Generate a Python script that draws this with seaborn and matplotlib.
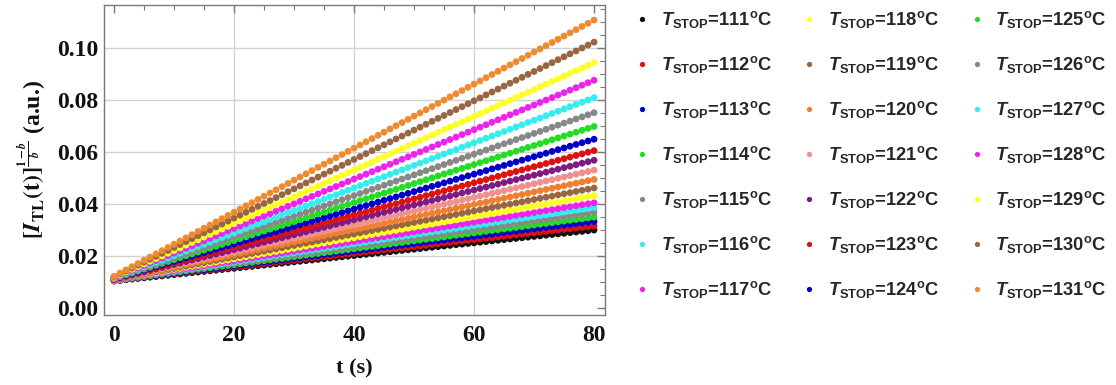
import numpy as np
import pandas as pd
import matplotlib
matplotlib.use("Agg")
import matplotlib.pyplot as plt
import seaborn as sns
from matplotlib.lines import Line2D
from matplotlib.ticker import MultipleLocator

# Stop temperatures (°C) of the 21 curves
t_stop = [111, 112, 113, 114, 115, 116, 117,
          118, 119, 120, 121, 122, 123, 124,
          125, 126, 127, 128, 129, 130, 131]

# Point colours, one per curve
colors = ["#111111", "#dd1111", "#0000cc", "#22dd22", "#888888", "#33eeee", "#ee22ee",
          "#ffff22", "#996644", "#f08030", "#f09090", "#801a80", "#dd1111", "#0000cc",
          "#22dd22", "#888888", "#33eeee", "#ee22ee", "#ffff22", "#996644", "#f08a30"]

# Sampling times (s)
t_seconds = np.arange(0, 81, 1)

# [I_TL(t)]^((1-b)/b) at t = 0 s and t = 80 s for each curve (a.u.)
y_at_0 = [0.0104, 0.0105, 0.0105, 0.0106, 0.0106, 0.0107, 0.0107,
          0.0108, 0.0108, 0.0109, 0.0110, 0.0110, 0.0111, 0.0112,
          0.0113, 0.0114, 0.0115, 0.0116, 0.0118, 0.0120, 0.0122]
y_at_80 = [0.0300, 0.0316, 0.0333, 0.0350, 0.0368, 0.0387, 0.0405,
           0.0433, 0.0462, 0.0495, 0.0531, 0.0569, 0.0606, 0.0650,
           0.0699, 0.0752, 0.0810, 0.0877, 0.0945, 0.1024, 0.1109]

# General-order kinetics: the transformed TL signal grows linearly with time
rows = []
for T, y0, y80 in zip(t_stop, y_at_0, y_at_80):
    slope = (y80 - y0) / 80.0
    for t in t_seconds:
        rows.append({"t": t, "y": y0 + slope * t, "T": str(T)})
df = pd.DataFrame(rows)

sns.set_theme(style="white")
plt.rcParams.update({
    "font.family": ["Liberation Serif", "DejaVu Serif"],
    "font.weight": "bold",
    "mathtext.fontset": "custom",
    "mathtext.rm": "Liberation Sans:bold",
    "mathtext.it": "Liberation Sans:italic:bold",
    "mathtext.bf": "Liberation Sans:bold",
})

fig = plt.figure(figsize=(11.16, 3.85), dpi=100)
ax = fig.add_axes([104 / 1116, 1 - 315 / 385, (605 - 104) / 1116, (315 - 5) / 385])

sns.scatterplot(data=df, x="t", y="y", hue="T", palette=colors,
                hue_order=[str(T) for T in t_stop],
                s=24, linewidth=0, legend=False, ax=ax, zorder=3)

ax.set_xlim(-1.67, 81.83)
ax.set_ylim(-0.0027, 0.1167)
ax.xaxis.set_major_locator(MultipleLocator(20))
ax.xaxis.set_minor_locator(MultipleLocator(5))
ax.yaxis.set_major_locator(MultipleLocator(0.02))
ax.yaxis.set_minor_locator(MultipleLocator(0.005))
ax.yaxis.set_major_formatter(matplotlib.ticker.FormatStrFormatter("%.2f"))

spine_col = "#7a7a7a"
for sp in ax.spines.values():
    sp.set_color(spine_col)
    sp.set_linewidth(1.0)
    sp.set_visible(True)
ax.tick_params(which="both", direction="in", top=True, right=True, color=spine_col,
               labelsize=17, labelcolor="#111111")
ax.tick_params(which="major", length=6, width=1.0)
ax.tick_params(which="minor", length=3.5, width=0.8)
ax.tick_params(axis="x", which="major", pad=7)
ax.tick_params(axis="y", which="major", pad=4)
for lab in ax.get_xticklabels() + ax.get_yticklabels():
    lab.set_fontweight("bold")

ax.grid(True, which="major", color="#d2d2d2", linewidth=1.0, zorder=0)
fig.canvas.draw()
for tick in ax.xaxis.get_major_ticks():
    if abs(tick.get_loc()) < 1e-9 or abs(tick.get_loc() - 80) < 1e-9:
        tick.gridline.set_visible(False)
for tick in ax.yaxis.get_major_ticks():
    if abs(tick.get_loc()) < 1e-9:
        tick.gridline.set_visible(False)
ax.set_axisbelow(True)

ax.set_xlabel("t (s)", fontsize=16, fontweight="bold", labelpad=9, color="#111111")
ax.set_ylabel(r"$[\mathbfit{I}_{\mathbf{TL}}\mathbf{(t)}]^{\frac{\mathbf{1-}\mathbfit{b}}{\mathbfit{b}}}$ (a.u.)",
              fontsize=17, fontweight="bold", labelpad=6, color="#111111",
              math_fontfamily="stix")

handles = [Line2D([], [], linestyle="none", marker="o", markersize=3.8,
                  markerfacecolor=c, markeredgewidth=0) for c in colors]
labels = [r"$T_{\mathrm{STOP}}$=%d$^{\mathrm{o}}$C" % T for T in t_stop]
fig.legend(handles, labels, ncol=3, loc="upper left",
           bbox_to_anchor=(633 / 1116, 1 - 9 / 385), frameon=False,
           prop={"family": "Liberation Sans", "weight": "bold", "size": 13.2},
           handlelength=1.0, handletextpad=0.5, columnspacing=1.55,
           labelspacing=1.31, borderpad=0.0, borderaxespad=0.0)

fig.savefig("out.png", dpi=100, facecolor="white")
